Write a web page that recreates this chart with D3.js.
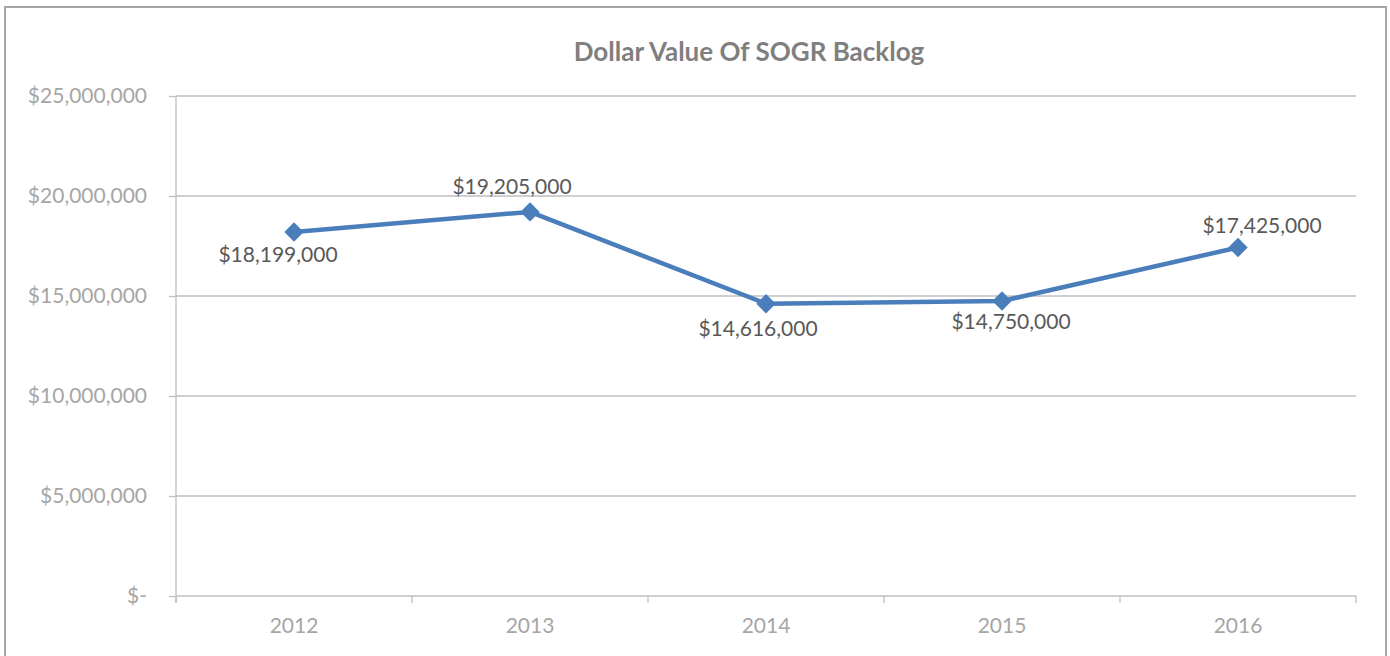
<!DOCTYPE html>
<html>
<head>
<meta charset="utf-8">
<script src="https://cdn.jsdelivr.net/npm/d3@7"></script>
<style>
  html, body { margin: 0; padding: 0; background: #fff; }
  svg { display: block; font-family: Lato, "Open Sans", sans-serif; }
</style>
</head>
<body>
<div id="chart"></div>
<script>
const years = ['2012', '2013', '2014', '2015', '2016'];
const backlog = [18199000, 19205000, 14616000, 14750000, 17425000];
const yTicks = [0, 5000000, 10000000, 15000000, 20000000, 25000000];
const title = 'Dollar Value Of SOGR Backlog';

// where each data label sits relative to its point (Excel put them by hand)
const labelOffsets = [
  {dx: -16, dy: 30}, {dx: -18, dy: -18}, {dx: -8, dy: 32},
  {dx: 9, dy: 28}, {dx: 24, dy: -15}
];

const width = 1390, height = 656;
const margin = ({top: 96, right: 34, bottom: 60, left: 176});

const svg = d3.select('#chart').append('svg')
    .attr('width', width)
    .attr('height', height);

svg.append('rect')
    .attr('x', 5).attr('y', 7)
    .attr('width', 1381).attr('height', 660)
    .attr('fill', 'none')
    .attr('stroke', '#a6a6a6')
    .attr('stroke-width', 2);

let x = d3.scaleBand()
    .domain(years)
    .range([margin.left, width - margin.right]);

let y = d3.scaleLinear()
    .domain([0, 25000000])
    .range([height - margin.bottom, margin.top]);

const fmt = d3.format('$,');
const tickFmt = d => d === 0 ? '$-' : fmt(d);

// gridlines
svg.append('g')
  .selectAll('line')
  .data(yTicks.filter(d => d > 0))
  .join('line')
    .attr('x1', margin.left).attr('x2', width - margin.right)
    .attr('y1', d => y(d)).attr('y2', d => y(d))
    .attr('stroke', '#bfbfbf')
    .attr('stroke-width', 1.3);

// y axis
let yAxis = g => g
    .attr('transform', `translate(${margin.left},0)`)
    .call(d3.axisLeft(y).tickValues(yTicks).tickSize(7).tickPadding(22).tickFormat(tickFmt))
    .call(g => g.select('.domain').attr('stroke', '#bfbfbf').attr('stroke-width', 1.3)
        .attr('d', `M0,${y(25000000)}V${y(0) + 7}`))
    .call(g => g.selectAll('.tick line').attr('stroke', '#bfbfbf').attr('stroke-width', 1.3))
    .call(g => g.selectAll('.tick text')
        .attr('fill', '#a6a6a6')
        .style('font-size', '21px')
        .style('font-family', 'Lato, sans-serif'));

svg.append('g').call(yAxis);

// x axis: ticks on band edges, labels at band centers
let xAxis = g => g
    .attr('transform', `translate(0,${y(0)})`)
    .call(d3.axisBottom(x).tickSize(0).tickPadding(22))
    .call(g => g.select('.domain').remove())
    .call(g => g.selectAll('.tick text')
        .attr('fill', '#a6a6a6')
        .style('font-size', '21px')
        .style('font-family', 'Lato, sans-serif'));

let xg = svg.append('g').call(xAxis);
xg.append('line')
    .attr('x1', margin.left).attr('x2', width - margin.right)
    .attr('stroke', '#bfbfbf').attr('stroke-width', 1.3);
xg.selectAll('.edge')
  .data(years.map(d => x(d)).concat([width - margin.right]))
  .join('line')
    .attr('class', 'edge')
    .attr('x1', d => d).attr('x2', d => d)
    .attr('y1', 0).attr('y2', 7)
    .attr('stroke', '#bfbfbf').attr('stroke-width', 1.3);

// title
svg.append('text')
    .attr('x', 749)
    .attr('y', 61)
    .attr('text-anchor', 'middle')
    .attr('fill', '#7f7f7f')
    .style('font-size', '26px')
    .style('font-weight', 'bold')
    .text(title);

const cx = (d, i) => x(years[i]) + x.bandwidth() / 2;

let line = d3.line()
    .x((d, i) => cx(d, i))
    .y(d => y(d));

svg.append('path')
    .datum(backlog)
    .attr('fill', 'none')
    .attr('stroke', '#4a7ebb')
    .attr('stroke-width', 4.5)
    .attr('stroke-linejoin', 'round')
    .attr('d', line);

svg.append('g')
  .selectAll('path')
  .data(backlog)
  .join('path')
    .attr('transform', (d, i) => `translate(${cx(d, i)},${y(d)})`)
    .attr('d', d3.symbol(d3.symbolDiamond2, 240))
    .attr('fill', '#4a7ebb');

svg.append('g')
  .selectAll('text')
  .data(backlog)
  .join('text')
    .attr('x', (d, i) => cx(d, i) + labelOffsets[i].dx)
    .attr('y', (d, i) => y(d) + labelOffsets[i].dy)
    .attr('text-anchor', 'middle')
    .attr('fill', '#595959')
    .style('font-size', '21px')
    .text(d => fmt(d));
</script>
</body>
</html>
